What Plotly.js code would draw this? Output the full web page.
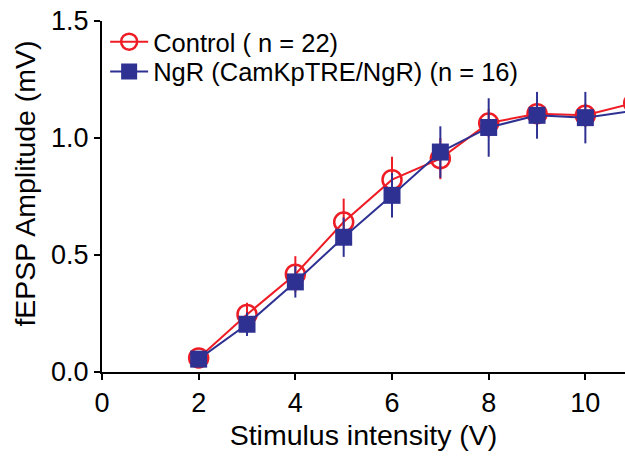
<!DOCTYPE html>
<html>
<head>
<meta charset="utf-8">
<script src="https://cdn.plot.ly/plotly-3.0.1.min.js"></script>
<style>html,body{margin:0;padding:0;background:#fff;}#chart{width:625px;height:458px;}</style>
</head>
<body>
<div id="chart"></div>
<script>
var stimulusV = [2, 3, 4, 5, 6, 7, 8, 9, 10, 11];
var controlAmp = [0.06, 0.246, 0.418, 0.641, 0.822, 0.912, 1.064, 1.104, 1.097, 1.149];
var controlErr = [0.02, 0.05, 0.077, 0.10, 0.098, 0.088, 0.06, 0.05, 0.05, 0.05];
var ngrAmp = [0.055, 0.204, 0.385, 0.576, 0.755, 0.940, 1.045, 1.097, 1.087, 1.116];
var ngrErr = [0.02, 0.05, 0.067, 0.084, 0.095, 0.11, 0.125, 0.10, 0.11, 0.10];
var seriesNames = ["Control ( n = 22)", "NgR (CamKpTRE/NgR) (n = 16)"];
var xTicks = [0, 2, 4, 6, 8, 10];
var yTicks = [0, 0.5, 1.0, 1.5];
var xTitle = "Stimulus intensity (V)";
var yTitle = "fEPSP Amplitude (mV)";

var red = "#ee1c25", blue = "#2e3192";
var traces = [
  {
    x: stimulusV, y: controlAmp, name: seriesNames[0], type: "scatter", mode: "lines+markers",
    legend: "legend",
    line: {color: red, width: 2},
    marker: {symbol: "circle-open", size: 19, color: red, line: {width: 2.5, color: red}},
    error_y: {type: "data", array: controlErr, visible: true, color: red, thickness: 2, width: 0}
  },
  {
    x: stimulusV, y: ngrAmp, name: seriesNames[1], type: "scatter", mode: "lines+markers",
    legend: "legend2",
    line: {color: blue, width: 2},
    marker: {symbol: "square", size: 17, color: blue},
    error_y: {type: "data", array: ngrErr, visible: true, color: blue, thickness: 2, width: 0}
  }
];
var font = "Liberation Sans, Arial, sans-serif";
function legendAt(yv) {
  return {x: 0.006, y: yv, xanchor: "left", yanchor: "middle", font: {size: 25.5, family: font},
          bgcolor: "rgba(0,0,0,0)", itemwidth: 38};
}
var layout = {
  width: 625, height: 458,
  margin: {l: 102, r: 0, t: 21, b: 86, pad: 0},
  paper_bgcolor: "#fff", plot_bgcolor: "#fff",
  font: {family: font, color: "#000"},
  showlegend: true,
  legend: legendAt(0.94),
  legend2: legendAt(0.855),
  xaxis: {
    range: [0, 10.82], tickvals: xTicks, ticktext: xTicks.map(String),
    showgrid: false, zeroline: false, showline: true, linecolor: "#000", linewidth: 2,
    ticks: "outside", ticklen: 6, tickwidth: 2, tickcolor: "#000",
    tickfont: {size: 27, family: font},
    title: {text: xTitle, font: {size: 28.5, family: font}, standoff: 8}
  },
  yaxis: {
    range: [0, 1.5], tickvals: yTicks, ticktext: yTicks.map(function(v){return v.toFixed(1);}),
    showgrid: false, zeroline: false, showline: true, linecolor: "#000", linewidth: 2,
    ticks: "outside", ticklen: 6, tickwidth: 2, tickcolor: "#000",
    tickfont: {size: 27, family: font}
  },
  annotations: [{
    text: yTitle, textangle: -90, xref: "paper", yref: "paper",
    x: -0.149, y: 0.537, xanchor: "center", yanchor: "middle", showarrow: false,
    font: {size: 28.5, family: font, color: "#000"}
  }]
};
Plotly.newPlot("chart", traces, layout, {displayModeBar: false, staticPlot: true});
</script>
</body>
</html>
